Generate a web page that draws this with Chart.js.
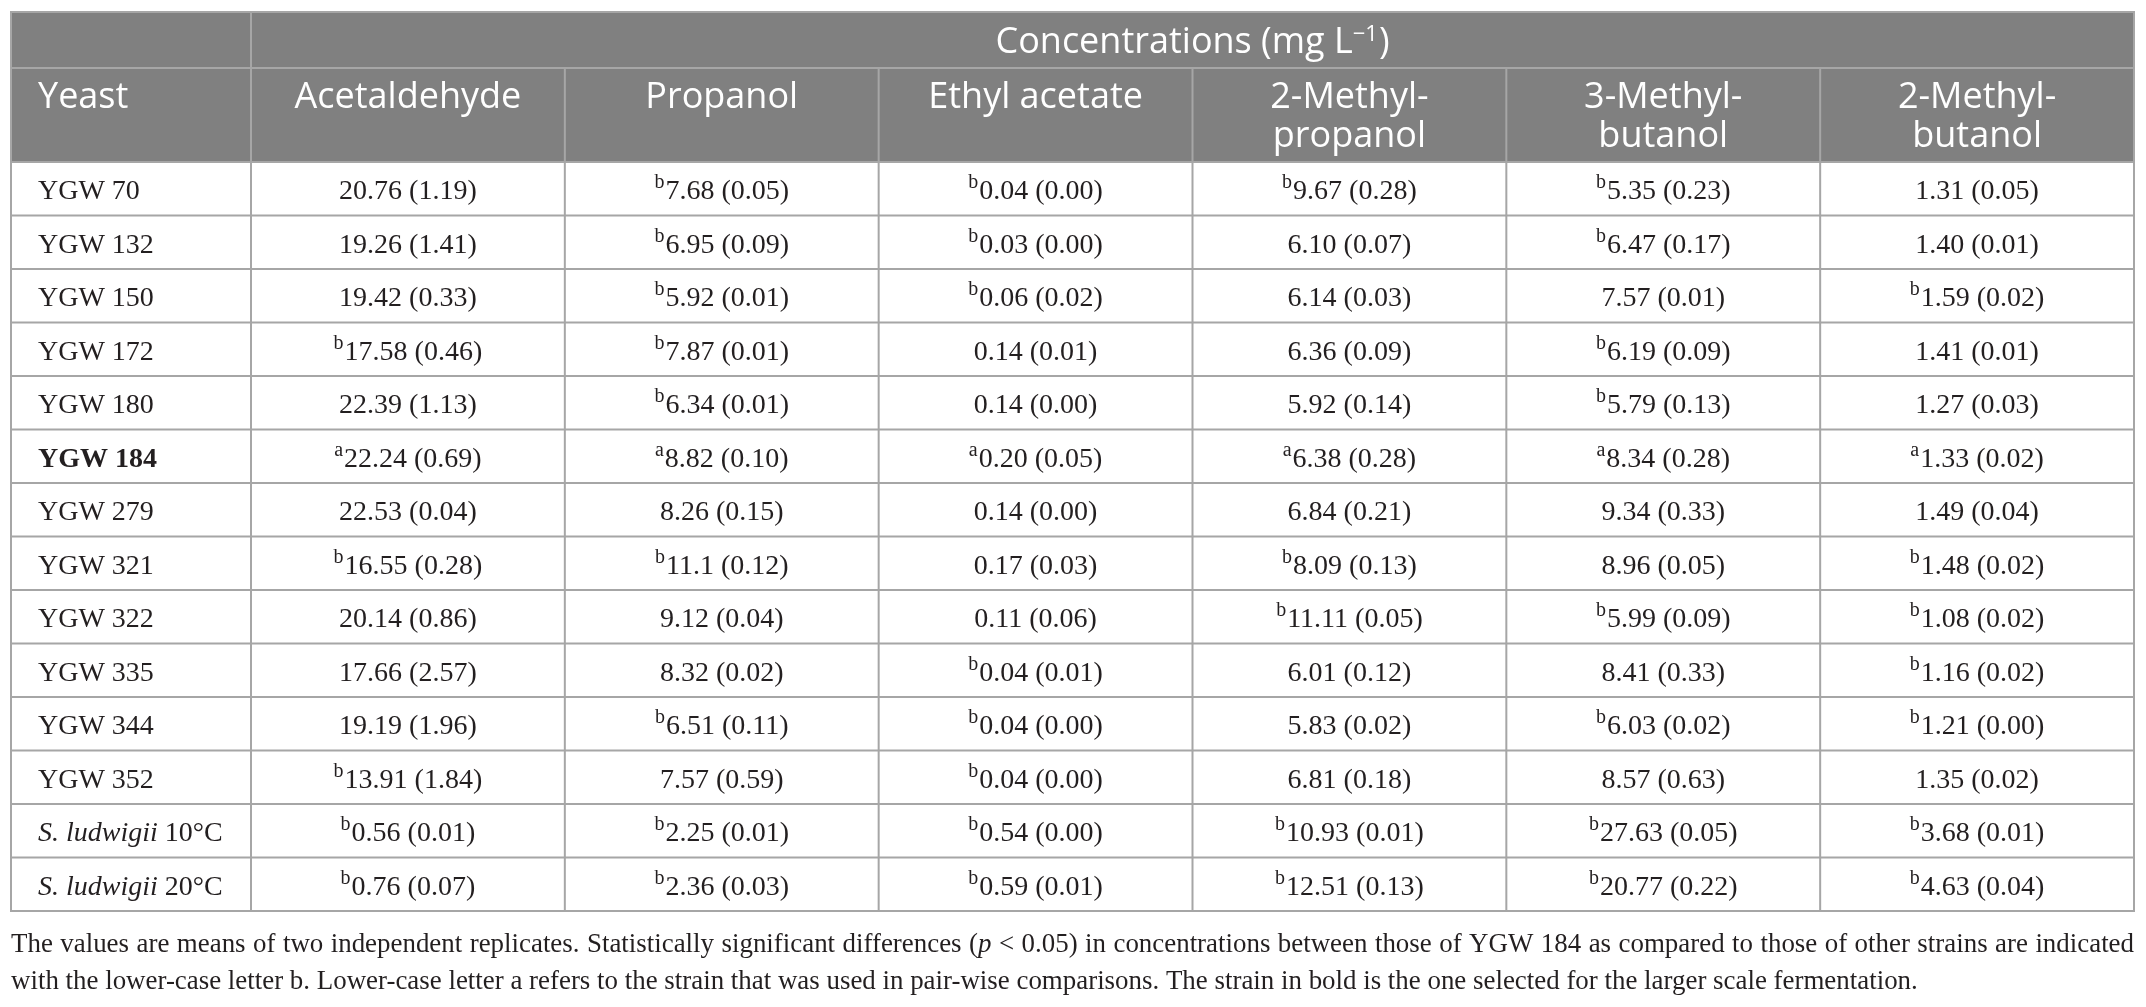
<!DOCTYPE html>
<html>
<head>
<meta charset="utf-8">
<script src="https://cdn.jsdelivr.net/npm/chart.js@4.4.1/dist/chart.umd.min.js"></script>
<style>
  html, body { margin: 0; padding: 0; background: #ffffff; }
  #wrap { width: 2146px; height: 1007px; position: relative; }
</style>
</head>
<body>
<div id="wrap"><canvas id="c"></canvas></div>
<script>
// ---------- DATA ----------
const yeasts = ['YGW 70', 'YGW 132', 'YGW 150', 'YGW 172', 'YGW 180', 'YGW 184', 'YGW 279',
  'YGW 321', 'YGW 322', 'YGW 335', 'YGW 344', 'YGW 352', 'S. ludwigii 10°C', 'S. ludwigii 20°C'];
const compounds = ['Acetaldehyde', 'Propanol', 'Ethyl acetate', '2-Methyl-propanol', '3-Methyl-butanol', '2-Methyl-butanol'];
const selectedStrain = 'YGW 184';
const headerTitle = 'Concentrations (mg L';
const headerTitleSup = '\u22121';
const headerTitleEnd = ')';
const firstColumnTitle = 'Yeast';

const acetaldehydeMean = ['20.76','19.26','19.42','17.58','22.39','22.24','22.53','16.55','20.14','17.66','19.19','13.91','0.56','0.76'];
const acetaldehydeSD   = ['1.19','1.41','0.33','0.46','1.13','0.69','0.04','0.28','0.86','2.57','1.96','1.84','0.01','0.07'];
const acetaldehydeSig  = ['','','','b','','a','','b','','','','b','b','b'];

const propanolMean = ['7.68','6.95','5.92','7.87','6.34','8.82','8.26','11.1','9.12','8.32','6.51','7.57','2.25','2.36'];
const propanolSD   = ['0.05','0.09','0.01','0.01','0.01','0.10','0.15','0.12','0.04','0.02','0.11','0.59','0.01','0.03'];
const propanolSig  = ['b','b','b','b','b','a','','b','','','b','','b','b'];

const ethylAcetateMean = ['0.04','0.03','0.06','0.14','0.14','0.20','0.14','0.17','0.11','0.04','0.04','0.04','0.54','0.59'];
const ethylAcetateSD   = ['0.00','0.00','0.02','0.01','0.00','0.05','0.00','0.03','0.06','0.01','0.00','0.00','0.00','0.01'];
const ethylAcetateSig  = ['b','b','b','','','a','','','','b','b','b','b','b'];

const methylPropanolMean = ['9.67','6.10','6.14','6.36','5.92','6.38','6.84','8.09','11.11','6.01','5.83','6.81','10.93','12.51'];
const methylPropanolSD   = ['0.28','0.07','0.03','0.09','0.14','0.28','0.21','0.13','0.05','0.12','0.02','0.18','0.01','0.13'];
const methylPropanolSig  = ['b','','','','','a','','b','b','','','','b','b'];

const methyl3ButanolMean = ['5.35','6.47','7.57','6.19','5.79','8.34','9.34','8.96','5.99','8.41','6.03','8.57','27.63','20.77'];
const methyl3ButanolSD   = ['0.23','0.17','0.01','0.09','0.13','0.28','0.33','0.05','0.09','0.33','0.02','0.63','0.05','0.22'];
const methyl3ButanolSig  = ['b','b','','b','b','a','','','b','','b','','b','b'];

const methyl2ButanolMean = ['1.31','1.40','1.59','1.41','1.27','1.33','1.49','1.48','1.08','1.16','1.21','1.35','3.68','4.63'];
const methyl2ButanolSD   = ['0.05','0.01','0.02','0.01','0.03','0.02','0.04','0.02','0.02','0.02','0.00','0.02','0.01','0.04'];
const methyl2ButanolSig  = ['','','b','','','a','','b','b','b','b','','b','b'];

const footnoteLine1 = 'The values are means of two independent replicates. Statistically significant differences (p < 0.05) in concentrations between those of YGW 184 as compared to those of other strains are indicated';
const footnoteLine2 = 'with the lower-case letter b. Lower-case letter a refers to the strain that was used in pair-wise comparisons. The strain in bold is the one selected for the larger scale fermentation.';

const columnMeans = [acetaldehydeMean, propanolMean, ethylAcetateMean, methylPropanolMean, methyl3ButanolMean, methyl2ButanolMean];
const columnSDs   = [acetaldehydeSD, propanolSD, ethylAcetateSD, methylPropanolSD, methyl3ButanolSD, methyl2ButanolSD];
const columnSigs  = [acetaldehydeSig, propanolSig, ethylAcetateSig, methylPropanolSig, methyl3ButanolSig, methyl2ButanolSig];

// ---------- STYLE / LAYOUT ----------
const L = {
  tableLeft: 11, tableTop: 12, headerMid: 68,
  labelX: 38,
  row1Baseline: 53, row2Baseline1: 108, row2Baseline2: 146.5,
  foot1: 952, foot2: 989, foot2Width: 1907
};
const C = { headerBg: '#808080', grid: '#a6a6a6', headText: '#ffffff', text: '#231f20' };
const SANS = '"Open Sans", "Noto Sans", sans-serif';
const SERIF = '"Liberation Serif", "DejaVu Serif", serif';
const bodySize = 28, supSize = 20, supRaise = 11;

function headerLines(name) {
  const k = name.indexOf('Methyl-');
  if (k < 0) return [name];
  return [name.slice(0, k + 7), name.slice(k + 7)];
}

const datasets = compounds.map((name, j) => ({
  label: name,
  data: yeasts.map((y, i) => ({ x: name, y: y, mean: columnMeans[j][i], sd: columnSDs[j][i], sig: columnSigs[j][i] })),
  pointRadius: 0, pointHoverRadius: 0, showLine: false
}));

function drawRunsLine(ctx, words, x, y, width, justify) {
  const ww = words.map(w => w.reduce((s, r) => { ctx.font = r.font; return s + ctx.measureText(r.t).width; }, 0));
  ctx.font = words[0][0].font;
  const spaceW = ctx.measureText(' ').width;
  const total = ww.reduce((a, b) => a + b, 0);
  const gap = justify ? (width - total) / (words.length - 1) : spaceW;
  let cx = x;
  words.forEach((w) => {
    w.forEach(r => { ctx.font = r.font; ctx.fillText(r.t, cx, y); cx += ctx.measureText(r.t).width; });
    cx += gap;
  });
}

const tablePlugin = {
  id: 'tablePlugin',
  afterDatasetsDraw(chart) {
    const ctx = chart.ctx;
    const ca = chart.chartArea;
    const xs = chart.scales.x, ys = chart.scales.y;
    const colW = (ca.right - ca.left) / compounds.length;
    const rowH = (ca.bottom - ca.top) / yeasts.length;
    ctx.save();

    // header background
    ctx.fillStyle = C.headerBg;
    ctx.fillRect(L.tableLeft, L.tableTop, ca.right - L.tableLeft, ca.top - L.tableTop);

    // grid lines
    ctx.strokeStyle = C.grid;
    ctx.lineWidth = 2;
    const hl = (y) => { ctx.beginPath(); ctx.moveTo(L.tableLeft, y); ctx.lineTo(ca.right, y); ctx.stroke(); };
    const vl = (x, y0, y1) => { ctx.beginPath(); ctx.moveTo(x, y0); ctx.lineTo(x, y1); ctx.stroke(); };
    hl(L.tableTop); hl(L.headerMid);
    for (let i = 0; i < yeasts.length; i++) hl(ys.getPixelForValue(yeasts[i]) - rowH / 2);
    hl(ca.bottom);
    vl(L.tableLeft, L.tableTop - 1, ca.bottom + 1);
    vl(ca.left, L.tableTop, ca.bottom);
    for (let j = 0; j < compounds.length - 1; j++) vl(xs.getPixelForValue(compounds[j]) + colW / 2, L.headerMid, ca.bottom);
    vl(ca.right, L.tableTop - 1, ca.bottom + 1);

    // header row 1
    ctx.fillStyle = C.headText;
    ctx.textBaseline = 'alphabetic';
    ctx.textAlign = 'left';
    const f1 = '36px ' + SANS, fs = '22px ' + SANS;
    ctx.font = f1; const w1 = ctx.measureText(headerTitle).width, w3 = ctx.measureText(headerTitleEnd).width;
    ctx.font = fs; const w2 = ctx.measureText(headerTitleSup).width + 1;
    let hx = (ca.left + ca.right) / 2 - (w1 + w2 + w3) / 2;
    ctx.font = f1; ctx.fillText(headerTitle, hx, L.row1Baseline); hx += w1;
    ctx.font = fs; ctx.fillText(headerTitleSup, hx, L.row1Baseline - 12); hx += w2;
    ctx.font = f1; ctx.fillText(headerTitleEnd, hx, L.row1Baseline);

    // header row 2
    ctx.font = '36px ' + SANS;
    ctx.fillText(firstColumnTitle, L.labelX, L.row2Baseline1);
    ctx.textAlign = 'center';
    compounds.forEach((name) => {
      const cx = xs.getPixelForValue(name);
      const lines = headerLines(name);
      ctx.fillText(lines[0], cx, L.row2Baseline1);
      if (lines[1]) ctx.fillText(lines[1], cx, L.row2Baseline2);
    });

    // row labels
    ctx.fillStyle = C.text;
    ctx.textAlign = 'left';
    yeasts.forEach((name) => {
      const by = ys.getPixelForValue(name) + 10.5;
      if (name.startsWith('S. ludwigii')) {
        const it = 'S. ludwigii';
        ctx.font = 'italic ' + bodySize + 'px ' + SERIF;
        ctx.fillText(it, L.labelX, by);
        const w = ctx.measureText(it).width;
        ctx.font = bodySize + 'px ' + SERIF;
        ctx.fillText(name.slice(it.length), L.labelX + w, by);
      } else {
        ctx.font = (name === selectedStrain ? 'bold ' : '') + bodySize + 'px ' + SERIF;
        ctx.fillText(name, L.labelX, by);
      }
    });

    // cells
    chart.data.datasets.forEach((ds, j) => {
      const meta = chart.getDatasetMeta(j);
      meta.data.forEach((pt, i) => {
        const d = ds.data[i];
        const main = d.mean + ' (' + d.sd + ')';
        ctx.font = supSize + 'px ' + SERIF;
        const sw = d.sig ? ctx.measureText(d.sig).width + 1 : 0;
        ctx.font = bodySize + 'px ' + SERIF;
        const mw = ctx.measureText(main).width;
        let x0 = pt.x - (sw + mw) / 2;
        const by = pt.y + 10.5;
        if (d.sig) {
          ctx.font = supSize + 'px ' + SERIF;
          ctx.fillText(d.sig, x0, by - supRaise);
          x0 += sw;
        }
        ctx.font = bodySize + 'px ' + SERIF;
        ctx.fillText(main, x0, by);
      });
    });

    // footnote
    ctx.font = bodySize + 'px ' + SERIF;
    const nat2 = ctx.measureText(footnoteLine2).width;
    const fsz = bodySize * L.foot2Width / nat2;
    const fn = fsz.toFixed(2) + 'px ' + SERIF, fi = 'italic ' + fsz.toFixed(2) + 'px ' + SERIF;
    const words1 = footnoteLine1.split(' ').map(w => w === '(p' ? [{ t: '(', font: fn }, { t: 'p', font: fi }] : [{ t: w, font: fn }]);
    const words2 = footnoteLine2.split(' ').map(w => [{ t: w, font: fn }]);
    drawRunsLine(ctx, words1, L.tableLeft, L.foot1, ca.right - L.tableLeft, true);
    drawRunsLine(ctx, words2, L.tableLeft, L.foot2, 0, false);

    ctx.restore();
  }
};

new Chart(document.getElementById('c'), {
  type: 'scatter',
  data: { datasets },
  options: {
    responsive: true,
    maintainAspectRatio: false,
    animation: false,
    events: [],
    layout: { padding: { left: 251, right: 12, top: 162, bottom: 96 } },
    plugins: { legend: { display: false }, tooltip: { enabled: false } },
    scales: {
      x: { type: 'category', labels: compounds, offset: true, display: false },
      y: { type: 'category', labels: yeasts, offset: true, display: false }
    }
  },
  plugins: [tablePlugin]
});
</script>
</body>
</html>
